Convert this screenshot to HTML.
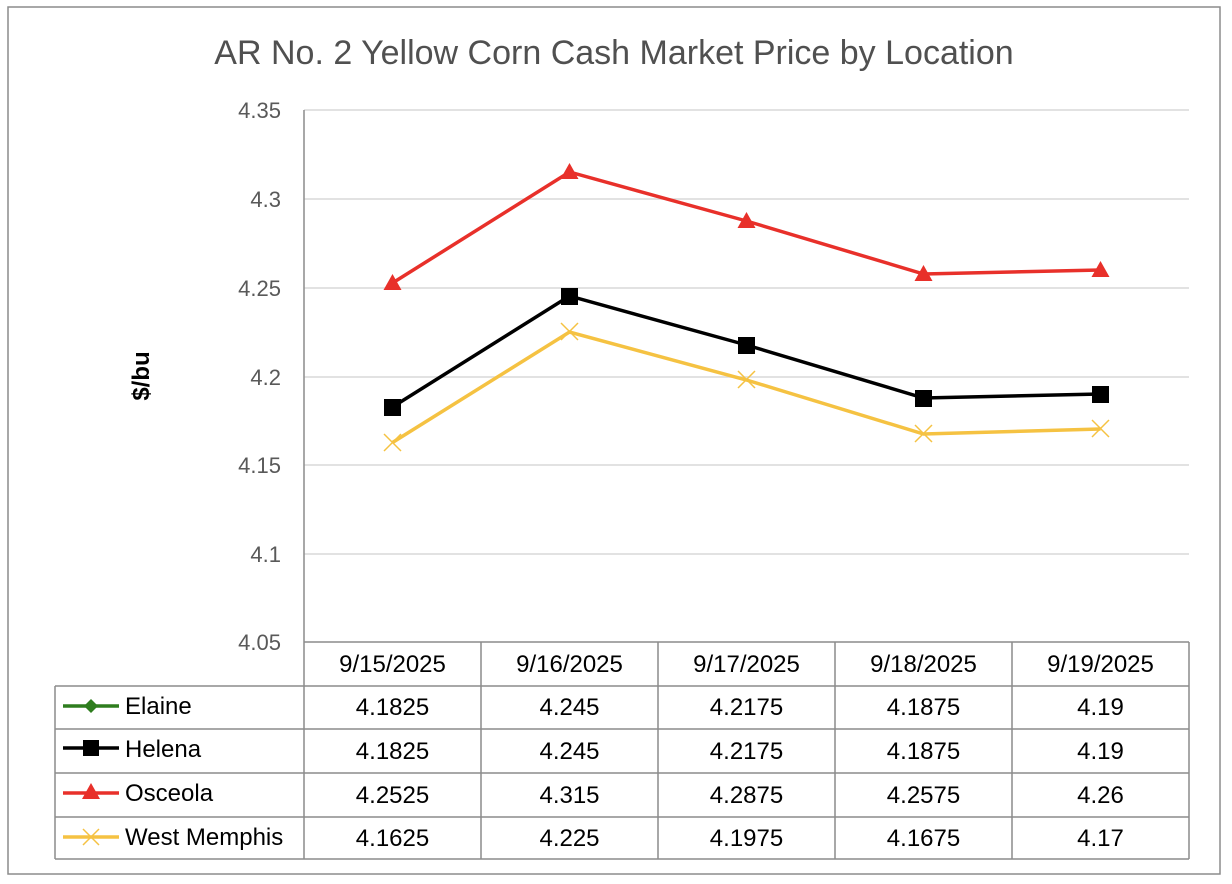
<!DOCTYPE html>
<html><head><style>body{margin:0;background:#fff;}svg{display:block;font-family:"Liberation Sans",sans-serif;}</style></head>
<body>
<svg width="1232" height="884" viewBox="0 0 1232 884">
<rect x="8" y="7" width="1212" height="867" fill="#fff" stroke="#8c8c8c" stroke-width="1.5"/>
<text x="614" y="64" text-anchor="middle" font-size="34" fill="#505050">AR No. 2 Yellow Corn Cash Market Price by Location</text>
<g stroke="#d9d9d9" stroke-width="1.5">
<line x1="304" y1="110" x2="1189" y2="110"/><line x1="304" y1="199" x2="1189" y2="199"/>
<line x1="304" y1="288" x2="1189" y2="288"/><line x1="304" y1="377" x2="1189" y2="377"/>
<line x1="304" y1="465" x2="1189" y2="465"/><line x1="304" y1="554" x2="1189" y2="554"/>
</g>
<g font-size="22" fill="#595959" text-anchor="end">
<text x="281" y="118">4.35</text><text x="281" y="207">4.3</text><text x="281" y="296">4.25</text>
<text x="281" y="385">4.2</text><text x="281" y="473">4.15</text><text x="281" y="562">4.1</text><text x="281" y="650">4.05</text>
</g>
<text transform="translate(149,376) rotate(-90)" text-anchor="middle" font-size="24" font-weight="bold">$/bu</text>
<g stroke="#8c8c8c" stroke-width="1.5" fill="none">
<line x1="304" y1="110" x2="304" y2="859"/>
<line x1="304" y1="642" x2="1189" y2="642"/>
<line x1="55" y1="686" x2="1189" y2="686"/><line x1="55" y1="729" x2="1189" y2="729"/>
<line x1="55" y1="773" x2="1189" y2="773"/><line x1="55" y1="817" x2="1189" y2="817"/>
<line x1="55" y1="859" x2="1189" y2="859"/>
<line x1="55" y1="686" x2="55" y2="859"/>
<line x1="481" y1="642" x2="481" y2="859"/><line x1="658" y1="642" x2="658" y2="859"/>
<line x1="835" y1="642" x2="835" y2="859"/><line x1="1012" y1="642" x2="1012" y2="859"/>
<line x1="1189" y1="642" x2="1189" y2="859"/>
</g>
<polyline points="392.5,442.5 569.5,332 746.5,380 923.5,434 1100.5,429" fill="none" stroke="#f5c242" stroke-width="3.5"/>
<g stroke="#f5c242" stroke-width="1.5">
<path d="M384,434l17,17M401,434l-17,17M561,323l17,17M578,323l-17,17M738,371l17,17M755,371l-17,17M915,425l17,17M932,425l-17,17M1092,420l17,17M1109,420l-17,17"/>
</g>
<polyline points="392.5,407 569.5,296 746.5,345 923.5,398 1100.5,394" fill="none" stroke="#000" stroke-width="3.5"/>
<g fill="#000">
<rect x="384" y="399" width="17" height="17"/><rect x="561" y="288" width="17" height="17"/><rect x="738" y="337" width="17" height="17"/><rect x="915" y="390" width="17" height="17"/><rect x="1092" y="386" width="17" height="17"/>
</g>
<polyline points="392.5,283 569.5,172 746.5,221 923.5,274 1100.5,270" fill="none" stroke="#e8302a" stroke-width="3.5"/>
<g fill="#e8302a">
<path d="M392.5,274l9,16h-18z M569.5,163l9,16h-18z M746.5,212l9,16h-18z M923.5,265l9,16h-18z M1100.5,261l9,16h-18z"/>
</g>
<g font-size="24" fill="#000" text-anchor="middle">
<text x="392.5" y="672">9/15/2025</text><text x="569.5" y="672">9/16/2025</text><text x="746.5" y="672">9/17/2025</text><text x="923.5" y="672">9/18/2025</text><text x="1100.5" y="672">9/19/2025</text>
<text x="392.5" y="715">4.1825</text><text x="569.5" y="715">4.245</text><text x="746.5" y="715">4.2175</text><text x="923.5" y="715">4.1875</text><text x="1100.5" y="715">4.19</text>
<text x="392.5" y="759">4.1825</text><text x="569.5" y="759">4.245</text><text x="746.5" y="759">4.2175</text><text x="923.5" y="759">4.1875</text><text x="1100.5" y="759">4.19</text>
<text x="392.5" y="803">4.2525</text><text x="569.5" y="803">4.315</text><text x="746.5" y="803">4.2875</text><text x="923.5" y="803">4.2575</text><text x="1100.5" y="803">4.26</text>
<text x="392.5" y="846">4.1625</text><text x="569.5" y="846">4.225</text><text x="746.5" y="846">4.1975</text><text x="923.5" y="846">4.1675</text><text x="1100.5" y="846">4.17</text>
</g>
<g font-size="24" fill="#000">
<text x="125" y="714">Elaine</text><text x="125" y="757">Helena</text><text x="125" y="801">Osceola</text><text x="125" y="845">West Memphis</text>
</g>
<line x1="63" y1="706" x2="119" y2="706" stroke="#2e7d1e" stroke-width="3.5"/>
<path d="M91,699l7,7l-7,7l-7,-7z" fill="#2e7d1e"/>
<line x1="63" y1="748" x2="119" y2="748" stroke="#000" stroke-width="3.5"/>
<rect x="83" y="740" width="16" height="16" fill="#000"/>
<line x1="63" y1="793" x2="119" y2="793" stroke="#e8302a" stroke-width="3.5"/>
<path d="M91,783l9,16h-18z" fill="#e8302a"/>
<line x1="63" y1="837" x2="119" y2="837" stroke="#f5c242" stroke-width="3.5"/>
<path d="M83,829l16,16M99,829l-16,16" stroke="#f5c242" stroke-width="1.5"/>
</svg>
</body></html>
